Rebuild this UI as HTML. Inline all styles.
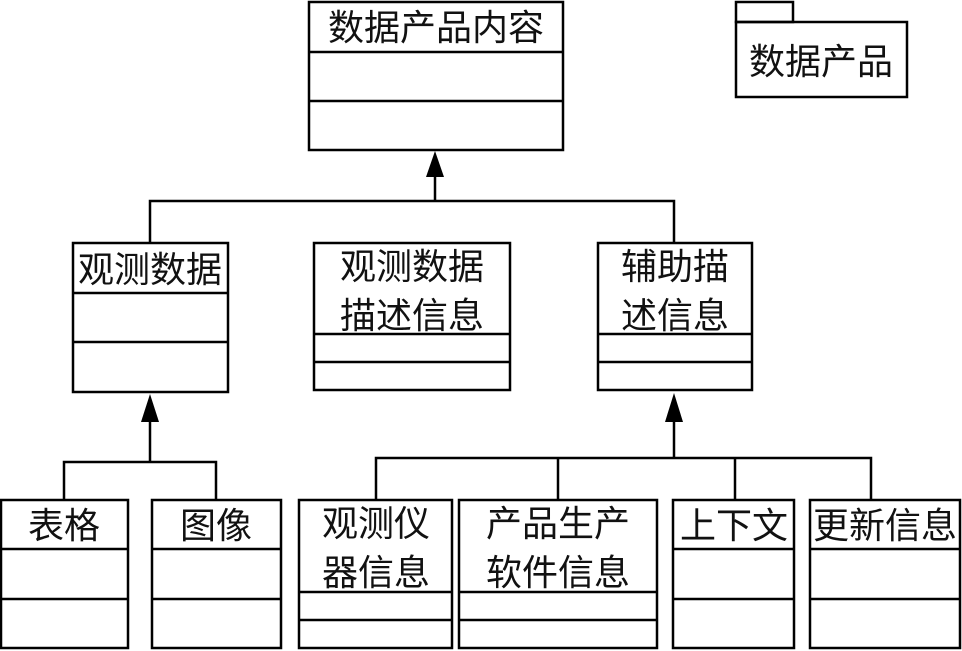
<!DOCTYPE html>
<html><head><meta charset="utf-8"><style>
html,body{margin:0;padding:0;background:#fff;}
svg{display:block;}
text{font-family:"Liberation Sans","Noto Sans CJK SC",sans-serif;font-size:36px;fill:#111;text-anchor:middle;}
</style></head><body>
<svg width="962" height="651" viewBox="0 0 962 651" xmlns="http://www.w3.org/2000/svg">
<g fill="none" stroke="#000" stroke-width="2.5">
<rect x="309" y="2" width="254" height="148"/><line x1="309" y1="52" x2="563" y2="52"/><line x1="309" y1="101" x2="563" y2="101"/>
<rect x="736" y="2" width="57" height="20"/><rect x="736" y="22" width="171" height="75"/>
<rect x="73" y="243" width="155" height="149"/><line x1="73" y1="293" x2="228" y2="293"/><line x1="73" y1="342" x2="228" y2="342"/>
<rect x="314" y="243" width="196" height="147"/><line x1="314" y1="334" x2="510" y2="334"/><line x1="314" y1="362" x2="510" y2="362"/>
<rect x="598" y="243" width="154" height="147"/><line x1="598" y1="334" x2="752" y2="334"/><line x1="598" y1="362" x2="752" y2="362"/>
<rect x="1" y="500" width="127" height="148"/><line x1="1" y1="549" x2="128" y2="549"/><line x1="1" y1="599" x2="128" y2="599"/>
<rect x="152" y="500" width="129" height="148"/><line x1="152" y1="549" x2="281" y2="549"/><line x1="152" y1="599" x2="281" y2="599"/>
<rect x="299" y="500" width="153" height="148"/><line x1="299" y1="592" x2="452" y2="592"/><line x1="299" y1="620" x2="452" y2="620"/>
<rect x="459" y="500" width="198" height="148"/><line x1="459" y1="592" x2="657" y2="592"/><line x1="459" y1="620" x2="657" y2="620"/>
<rect x="673" y="500" width="121" height="148"/><line x1="673" y1="549" x2="794" y2="549"/><line x1="673" y1="599" x2="794" y2="599"/>
<rect x="810" y="500" width="150" height="148"/><line x1="810" y1="549" x2="960" y2="549"/><line x1="810" y1="599" x2="960" y2="599"/>
<polyline points="150,243 150,201 674,201 674,243"/><line x1="435" y1="201" x2="435" y2="175"/>
<polyline points="64,500 64,462 216,462 216,500"/><line x1="150" y1="462" x2="150" y2="422"/>
<polyline points="376,500 376,458 871,458 871,500"/><line x1="558" y1="458" x2="558" y2="500"/><line x1="735" y1="458" x2="735" y2="500"/><line x1="674" y1="458" x2="674" y2="422"/>
</g>
<g fill="#000">
<polygon points="435,151 426,177 444,177"/>
<polygon points="150,394 141,422 159,422"/>
<polygon points="674,393 665,422 683,422"/>
</g>
<text x="436" y="40">数据产品内容</text>
<text x="821" y="74">数据产品</text>
<text x="150" y="282">观测数据</text>
<text x="412" y="279">观测数据</text><text x="412" y="328">描述信息</text>
<text x="675" y="279">辅助描</text><text x="675" y="328">述信息</text>
<text x="64" y="538">表格</text>
<text x="216" y="538">图像</text>
<text x="376" y="536">观测仪</text><text x="376" y="585">器信息</text>
<text x="558" y="536">产品生产</text><text x="558" y="585">软件信息</text>
<text x="734" y="538">上下文</text>
<text x="885" y="538">更新信息</text>
</svg>
</body></html>
